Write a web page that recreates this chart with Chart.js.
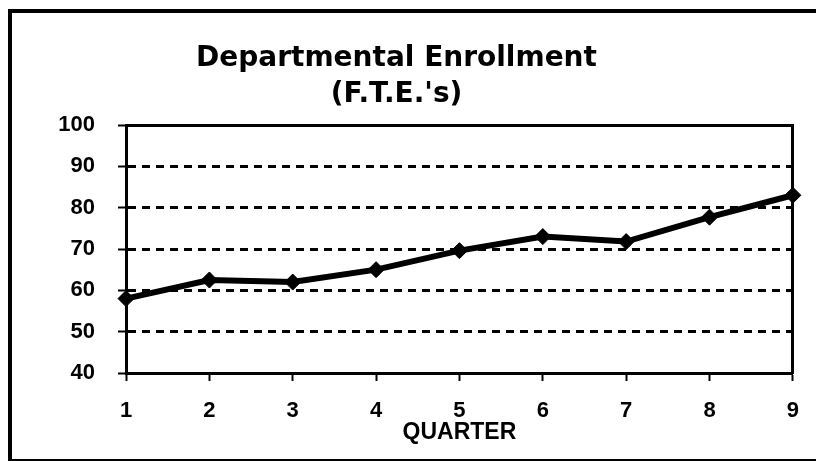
<!DOCTYPE html>
<html>
<head>
<meta charset="utf-8">
<script src="https://cdn.jsdelivr.net/npm/chart.js@4"></script>
<style>
html,body{margin:0;padding:0;background:#fff;}
#wrap{position:relative;width:816px;height:461px;overflow:hidden;background:#fff;}
#frame{position:absolute;left:8px;top:9px;width:900px;height:446px;border-left:4px solid #000;border-top:4px solid #000;border-bottom:2px solid #000;}
canvas{position:absolute;left:0;top:0;}
</style>
</head>
<body>
<div id="wrap"><div id="frame"></div><canvas id="c" width="816" height="461"></canvas></div>
<script>
// ---- data ----
const categories = ['1', '2', '3', '4', '5', '6', '7', '8', '9'];
const enrollment = [58, 62.5, 62, 65, 69.6, 73, 71.8, 77.7, 83];
const titleLines = ['Departmental Enrollment', "(F.T.E.'s)"];
const xAxisTitle = 'QUARTER';
const yMin = 40;
const yMax = 100;
const yStep = 10;

const tickFont = { family: 'Liberation Sans, Arial, sans-serif', weight: 'bold', size: 22 };

new Chart(document.getElementById('c').getContext('2d'), {
  type: 'line',
  data: {
    labels: categories,
    datasets: [{
      data: enrollment,
      borderColor: '#000',
      backgroundColor: '#000',
      borderWidth: 6,
      tension: 0,
      fill: false,
      pointStyle: 'rectRot',
      pointRadius: 8,
      pointBorderWidth: 1,
      pointBackgroundColor: '#000',
      pointBorderColor: '#000',
      xAxisID: 'x',
      yAxisID: 'y'
    }]
  },
  options: {
    responsive: false,
    animation: false,
    devicePixelRatio: 1,
    layout: { padding: { left: 0, right: 23, top: 0, bottom: 0 } },
    plugins: {
      legend: { display: false },
      tooltip: { enabled: false },
      title: {
        display: true,
        text: titleLines,
        color: '#000',
        font: { family: 'DejaVu Sans, sans-serif', weight: 'bold', size: 28, lineHeight: '36px' },
        padding: { top: 41, bottom: 12 }
      }
    },
    scales: {
      x: {
        type: 'category',
        position: 'bottom',
        offset: false,
        grid: { display: true, drawOnChartArea: false, drawTicks: true, tickLength: 8, tickWidth: 2, tickColor: '#000', color: '#000' },
        border: { display: true, color: '#000', width: 3 },
        ticks: { color: '#000', font: tickFont, padding: 17, maxRotation: 0, autoSkip: false },
        title: {
          display: true, text: xAxisTitle, color: '#000',
          font: { family: 'Liberation Sans, Arial, sans-serif', weight: 'bold', size: 23 },
          padding: { top: 0, bottom: 15 }
        },
        afterFit(s) { s.height = 88; }
      },
      y: {
        type: 'linear',
        position: 'left',
        min: yMin,
        max: yMax,
        ticks: { stepSize: yStep, color: '#000', font: tickFont, padding: 23 },
        grid: {
          color: (c) => (c.tick && (c.tick.value === yMax || c.tick.value === yMin)) ? 'rgba(0,0,0,0)' : '#000',
          lineWidth: 3,
          tickColor: '#000',
          tickWidth: 2,
          tickLength: 8
        },
        border: { display: true, color: '#000', width: 3, dash: [8, 6] },
        afterFit(s) { s.width = 126; }
      },
      x2: {
        type: 'linear', position: 'top', min: 0, max: 1, display: true,
        grid: { display: false, drawTicks: false },
        ticks: { display: false },
        border: { display: true, color: '#000', width: 3 },
        afterFit(s) { s.height = 0; }
      },
      y2: {
        type: 'linear', position: 'right', min: 0, max: 1, display: true,
        grid: { display: false, drawTicks: false },
        ticks: { display: false },
        border: { display: true, color: '#000', width: 3 },
        afterFit(s) { s.width = 0; }
      }
    }
  }
});
</script>
</body>
</html>
